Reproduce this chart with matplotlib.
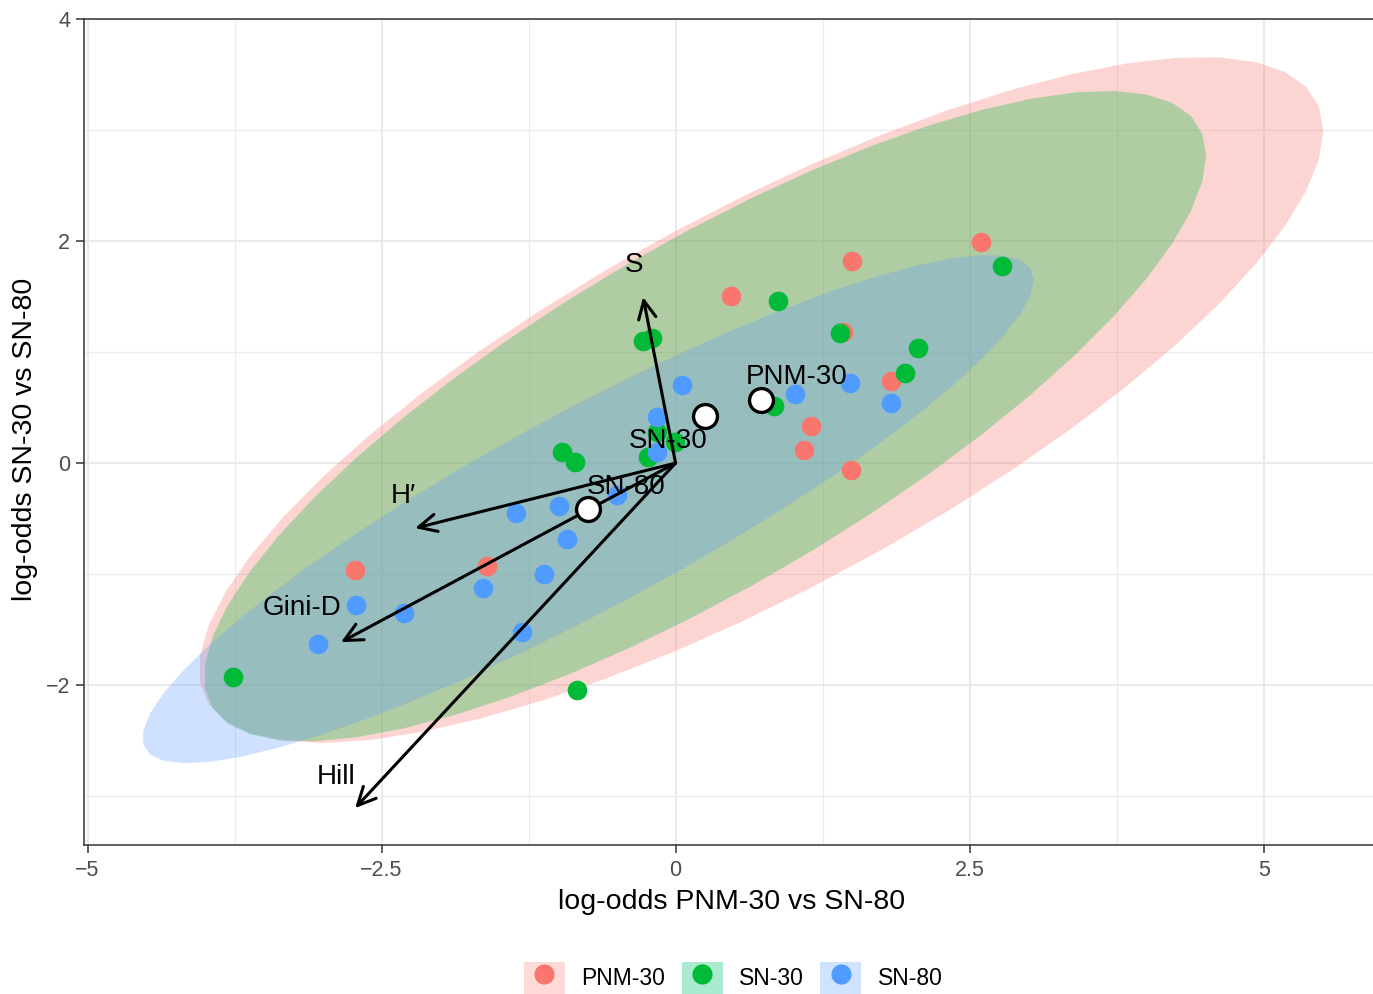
import numpy as np
import matplotlib.pyplot as plt
from matplotlib.patches import Polygon, Patch
from matplotlib.lines import Line2D
from matplotlib.legend_handler import HandlerTuple

plt.rcParams['font.family'] = ['Liberation Sans', 'DejaVu Sans']

groups = ['PNM-30', 'SN-30', 'SN-80']
colors = ['#F8766D', '#00BA38', '#4F9BFF']
key_fill = ['#FDDAD6', '#AAEBCF', '#CFE3FF']

# sample scores per group
pnm_x = [-2.725, -1.603, 0.472, 1.501, 2.598, 1.424, 1.832, 1.152, 1.093, 1.492]
pnm_y = [-0.964, -0.928, 1.505, 1.820, 1.991, 1.180, 0.739, 0.333, 0.117, -0.063]
sn30_x = [-3.763, -0.838, -0.966, -0.855, -0.277, -0.200, 0.872, 2.777, 1.399,
          2.062, 1.952, 0.838, -0.234, -0.004, -0.157]
sn30_y = [-1.928, -2.045, 0.099, 0.009, 1.099, 1.126, 1.459, 1.775, 1.171,
          1.036, 0.811, 0.514, 0.054, 0.189, 0.279]
sn80_x = [-3.040, -2.717, -2.309, -1.637, -1.305, -1.118, -0.923, -1.357, -0.991,
          -0.497, -0.157, -0.157, 0.055, 1.016, 1.484, 1.832]
sn80_y = [-1.631, -1.279, -1.351, -1.126, -1.523, -1.000, -0.685, -0.450, -0.387,
          -0.288, 0.414, 0.099, 0.703, 0.622, 0.721, 0.541]

# group centroids and their labels
centroid_x = [0.727, 0.251, -0.744]
centroid_y = [0.568, 0.423, -0.414]
label_x = [1.033, -0.064, -0.421]
label_y = [0.775, 0.198, -0.216]

# ellipse half-extents and correlation
ell_sx = [4.78, 4.26, 3.79]
ell_sy = [3.09, 2.93, 2.29]
ell_r = [0.785, 0.801, 0.900]

# loading vectors
vec_names = ['S', 'H\u2032', 'Gini-D', 'Hill']
vec_x = [-0.276, -2.215, -2.845, -2.725]
vec_y = [1.495, -0.586, -1.613, -3.108]
vec_lab_x = [-0.353, -2.317, -3.176, -2.887]
vec_lab_y = [1.784, -0.297, -1.306, -2.829]

xticks = [-5, -2.5, 0, 2.5, 5]
xticklabels = ['\u22125', '\u22122.5', '0', '2.5', '5']
yticks = [-2, 0, 2, 4]
yticklabels = ['\u22122', '0', '2', '4']

fig = plt.figure(figsize=(13.73, 9.94), dpi=100)
ax = fig.add_axes([84 / 1373, 1 - 845 / 994, 1289 / 1373, 826 / 994])

t = np.linspace(0, 2 * np.pi, 52)
fills = ['#F8766D', '#00BA38', '#619CFF']
for i in range(3):
    ex = centroid_x[i] + ell_sx[i] * np.cos(t)
    ey = centroid_y[i] + ell_sy[i] * (ell_r[i] * np.cos(t) + np.sqrt(1 - ell_r[i] ** 2) * np.sin(t))
    ax.add_patch(Polygon(np.column_stack([ex, ey]), closed=True, facecolor=fills[i],
                         alpha=0.3, edgecolor='none', zorder=1))

pts = [(pnm_x, pnm_y), (sn30_x, sn30_y), (sn80_x, sn80_y)]
for i, (px, py) in enumerate(pts):
    ax.scatter(px, py, s=200, color=colors[i], linewidths=0, zorder=3)

for i in range(len(vec_names)):
    ax.annotate('', xy=(vec_x[i], vec_y[i]), xytext=(0, 0),
                arrowprops=dict(arrowstyle='->,head_length=1.3,head_width=0.63',
                                lw=2.2, color='black', shrinkA=0, shrinkB=0,
                                mutation_scale=10), zorder=4)
    ax.text(vec_lab_x[i], vec_lab_y[i], vec_names[i], fontsize=20,
            ha='center', va='center', zorder=6)

ax.scatter(centroid_x, centroid_y, s=296, facecolor='white', edgecolor='black',
           linewidths=2.4, zorder=5)
for i in range(3):
    ax.text(label_x[i], label_y[i], groups[i], fontsize=20, ha='center',
            va='center', zorder=6)

ax.set_xlim(-5.03, 5.93)
ax.set_ylim(-3.44, 4.0)
ax.set_xticks(xticks)
ax.set_xticklabels(xticklabels)
ax.set_yticks(yticks)
ax.set_yticklabels(yticklabels)
ax.set_xticks([-3.75, -1.25, 1.25, 3.75], minor=True)
ax.set_yticks([-3, -1, 1, 3], minor=True)
ax.tick_params(which='major', length=5.5, width=1.1, color='#333333',
               labelcolor='#4D4D4D', labelsize=15.5)
ax.tick_params(axis='x', which='major', pad=5)
ax.tick_params(axis='y', which='major', pad=4.5)
ax.tick_params(which='minor', length=0)
ax.set_axisbelow(True)
ax.grid(which='major', color='#E8E8E8', lw=1.3)
ax.grid(which='minor', color='#EBEBEB', lw=0.8)
for side in ['left', 'bottom', 'top']:
    ax.spines[side].set_color('#333333')
    ax.spines[side].set_linewidth(1.1)
ax.spines['right'].set_visible(False)

ax.set_xlabel('log-odds PNM-30 vs SN-80', fontsize=20.5)
ax.set_ylabel('log-odds SN-30 vs SN-80', fontsize=20.5)
ax.xaxis.set_label_coords(0.502, -0.053)
ax.yaxis.set_label_coords(-0.036, 0.491)

handles = [(Patch(facecolor=key_fill[i], edgecolor='none'),
            Line2D([], [], marker='o', color=colors[i], ls='none', markersize=14.5,
                   markeredgewidth=0))
           for i in range(3)]
fig.legend(handles, groups, handler_map={tuple: HandlerTuple(ndivide=1, pad=0)},
           loc='center', bbox_to_anchor=(733 / 1373, 1 - 978 / 994), ncol=3,
           frameon=False, fontsize=16.5, handlelength=1.79, handleheight=1.79,
           handletextpad=0.7, columnspacing=0.74, borderpad=0, borderaxespad=0)

fig.savefig('out.png', dpi=100)
